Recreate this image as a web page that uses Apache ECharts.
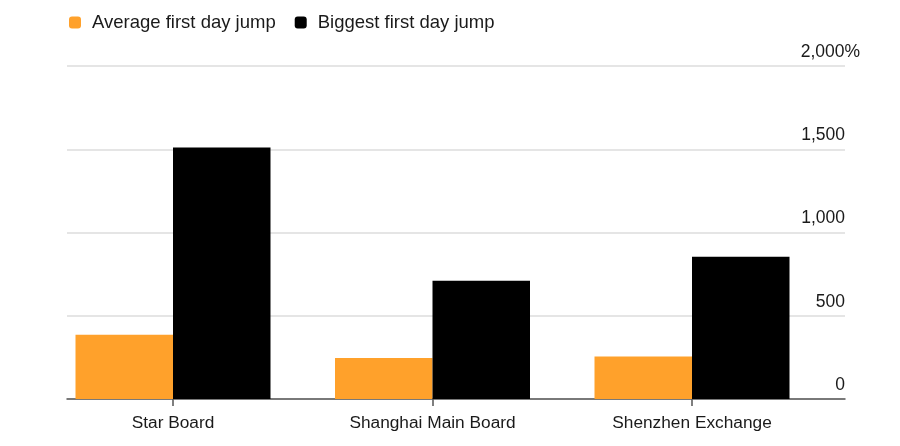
<!DOCTYPE html>
<html>
<head>
<meta charset="utf-8">
<script src="https://cdn.jsdelivr.net/npm/echarts@6/dist/echarts.min.js"></script>
<style>html,body{margin:0;padding:0;background:#fff}#c{width:900px;height:446px}</style>
</head>
<body>
<div id="c"></div>
<script>
const categories = ['Star Board', 'Shanghai Main Board', 'Shenzhen Exchange'];
const averageJump = [386, 246, 256];
const biggestJump = [1510, 710, 855];
const yTicks = [0, 500, 1000, 1500, 2000];
const yTickLabels = ['0', '500', '1,000', '1,500', '2,000%'];

const font = 'Liberation Sans, Arial, sans-serif';
const chart = echarts.init(document.getElementById('c'));
chart.setOption({
  animation: false,
  textStyle: { fontFamily: font },
  legend: {
    left: 64, top: 8,
    itemWidth: 12, itemHeight: 12, itemGap: 19,
    icon: 'roundRect',
    textStyle: { fontSize: 18.5, color: '#1a1a1a', fontFamily: font, padding: [0, 0, 0, 6] },
    data: ['Average first day jump', 'Biggest first day jump']
  },
  grid: [
    { left: 67, right: 55, top: 66, bottom: 47 },
    { left: 43.25, right: 78.25, top: 66, bottom: 47 }
  ],
  xAxis: [
    { gridIndex: 0, type: 'value', min: 0, max: 1, show: true,
      axisLine: { show: true, onZero: false, lineStyle: { color: '#555', width: 1.5 } },
      axisTick: { show: false }, axisLabel: { show: false }, splitLine: { show: false } },
    { gridIndex: 1, type: 'category', data: categories,
      axisLine: { show: false },
      axisTick: { show: true, alignWithLabel: true, length: 7, lineStyle: { color: '#555', width: 1.5 } },
      axisLabel: { fontSize: 17.3, color: '#1a1a1a', margin: 16, fontFamily: font } }
  ],
  yAxis: [
    { gridIndex: 0, type: 'value', position: 'right', min: 0, max: 2000, interval: 500,
      axisLine: { show: false }, axisTick: { show: false },
      splitLine: { show: true, lineStyle: { color: '#dcdcdc', width: 1.5 } },
      axisLabel: {
        inside: true, margin: -15, align: 'right', verticalAlign: 'bottom',
        fontSize: 17.5, color: '#1a1a1a', fontFamily: font,
        formatter: function (v) {
          const i = yTicks.indexOf(v);
          const t = i >= 0 ? yTickLabels[i] : String(v);
          return v === 2000 ? '{t|' + t + '}' : '{n|' + t + '}';
        },
        rich: {
          t: { fontSize: 17.5, color: '#1a1a1a', fontFamily: font, padding: [0, 0, 5, 0] },
          n: { fontSize: 17.5, color: '#1a1a1a', fontFamily: font, padding: [0, 15, 5, 0] }
        }
      } },
    { gridIndex: 1, type: 'value', min: 0, max: 2000, interval: 500, show: false }
  ],
  series: [
    { name: 'Average first day jump', type: 'bar', xAxisIndex: 1, yAxisIndex: 1,
      data: averageJump, barWidth: 97.5, barGap: '0%', itemStyle: { color: '#ffa12b' } },
    { name: 'Biggest first day jump', type: 'bar', xAxisIndex: 1, yAxisIndex: 1,
      data: biggestJump, barWidth: 97.5, barGap: '0%', itemStyle: { color: '#000000' } }
  ]
});
</script>
</body>
</html>
